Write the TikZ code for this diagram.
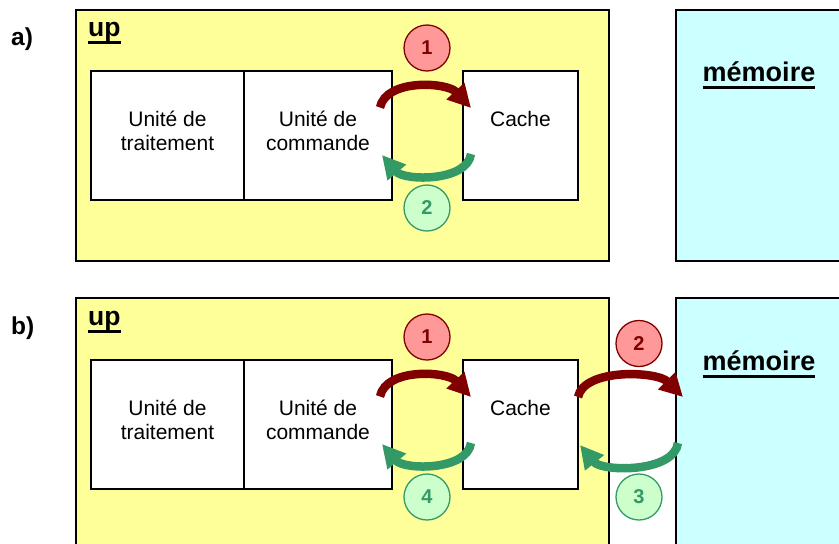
\documentclass[tikz,border=0pt]{standalone}
\usepackage{fontspec}
\setmainfont{Liberation Sans}
\usetikzlibrary{arrows.meta}
\definecolor{upyellow}{HTML}{FFFF99}
\definecolor{memcyan}{HTML}{CCFFFF}
\definecolor{darkred}{HTML}{800000}
\definecolor{pinkfill}{HTML}{FF9999}
\definecolor{seagreen}{HTML}{339966}
\definecolor{mintfill}{HTML}{CCFFCC}
\newcommand{\thul}[1]{\setbox0\hbox{#1}\rlap{\rule[-8pt]{\wd0}{2.7pt}}\box0}
\begin{document}
\begin{tikzpicture}[x=1pt,y=1pt,
  frame/.style={draw=black, line width=1.5pt, inner sep=0pt, outer sep=0pt},
  upbox/.style={frame, fill=upyellow, minimum width=533pt},
  membox/.style={frame, fill=memcyan, minimum width=224pt},
  unitbox/.style={frame, fill=white, minimum height=129pt},
  lbl/.style={font=\fontsize{21}{24}\selectfont, align=center, inner sep=0pt},
  partlbl/.style={font=\bfseries\fontsize{24.5}{28}\selectfont, anchor=base west, inner sep=0pt},
  titlelbl/.style={font=\bfseries\fontsize{26.5}{30}\selectfont, inner sep=0pt},
  memlbl/.style={font=\bfseries\fontsize{27}{30}\selectfont, inner sep=0pt, anchor=base},
  stepbase/.style={circle, line width=1.3pt, minimum size=46pt, inner sep=0pt, font=\bfseries\fontsize{20}{22}\selectfont},
  redstep/.style={stepbase, draw=darkred, fill=pinkfill, text=darkred},
  greenstep/.style={stepbase, draw=seagreen, fill=mintfill, text=seagreen},
  fwd/.style={draw=darkred, line width=8.5pt, -{Triangle[length=23pt,width=23pt]}},
  bwd/.style={draw=seagreen, line width=8.5pt, -{Triangle[length=23pt,width=23pt]}}
]
\useasboundingbox (0,0) rectangle (839,-544);
\fill[white] (0,0) rectangle (839,-544);

% ---------- a) ----------
\node[partlbl] (la) at (11,-45) {a)};
\node[upbox, minimum height=251pt] (upA) at (342.5,-135.5) {};
\node[membox, minimum height=251pt] (memA) at (788,-135.5) {};
\node[titlelbl, anchor=base west] (upAt) at (88,-36) {\thul{up}};
\node[memlbl] (memAt) at (759,-81) {\thul{mémoire}};
\node[unitbox, minimum width=153pt] (traitA) at (167.5,-135.5) {};
\node[unitbox, minimum width=148pt] (cmdA) at (318,-135.5) {};
\node[unitbox, minimum width=115pt] (cacheA) at (520.5,-135.5) {};
\node[lbl] (traitAt) at (167.5,-131) {Unité de\\traitement};
\node[lbl] (cmdAt) at (318,-131) {Unité de\\commande};
\node[lbl, anchor=base] (cacheAt) at (520.5,-126.5) {Cache};
\node[redstep] (sA1) at (427,-48) {1};
\node[greenstep] (sA2) at (427,-208) {2};
\coordinate (rA1s) at (380,-107.5);
\coordinate (rA1e) at (471,-108);
\coordinate (gA2s) at (471,-154);
\coordinate (gA2e) at (382,-155);
\draw[fwd] (rA1s) .. controls +(6,29) and +(-24,26) .. (rA1e);
\draw[bwd] (gA2s) .. controls +(-4,-28) and +(22,-26) .. (gA2e);

% ---------- b) ----------
\node[partlbl] (lb) at (11,-334) {b)};
\node[upbox, minimum height=262pt] (upB) at (342.5,-429) {};
\node[membox, minimum height=262pt] (memB) at (788,-429) {};
\node[titlelbl, anchor=base west] (upBt) at (88,-325) {\thul{up}};
\node[memlbl] (memBt) at (759,-370) {\thul{mémoire}};
\node[unitbox, minimum width=153pt] (traitB) at (167.5,-424.5) {};
\node[unitbox, minimum width=148pt] (cmdB) at (318,-424.5) {};
\node[unitbox, minimum width=115pt] (cacheB) at (520.5,-424.5) {};
\node[lbl] (traitBt) at (167.5,-420) {Unité de\\traitement};
\node[lbl] (cmdBt) at (318,-420) {Unité de\\commande};
\node[lbl, anchor=base] (cacheBt) at (520.5,-415.5) {Cache};
\node[redstep] (sB1) at (427,-337) {1};
\node[greenstep] (sB4) at (427,-497) {4};
\node[redstep] (sB2) at (639,-343.5) {2};
\node[greenstep] (sB3) at (639,-497) {3};
\coordinate (rB1s) at (380,-396.5);
\coordinate (rB1e) at (471,-397);
\coordinate (gB4s) at (471,-443);
\coordinate (gB4e) at (382,-444);
\coordinate (rB2s) at (578,-397);
\coordinate (rB2e) at (683,-397);
\coordinate (gB3s) at (678,-443);
\coordinate (gB3e) at (580,-445);
\draw[fwd] (rB1s) .. controls +(6,29) and +(-24,26) .. (rB1e);
\draw[bwd] (gB4s) .. controls +(-4,-28) and +(22,-26) .. (gB4e);
\draw[fwd] (rB2s) .. controls +(6,29) and +(-26,26) .. (rB2e);
\draw[bwd] (gB3s) .. controls +(-4,-30) and +(22,-27) .. (gB3e);
\end{tikzpicture}
\end{document}
